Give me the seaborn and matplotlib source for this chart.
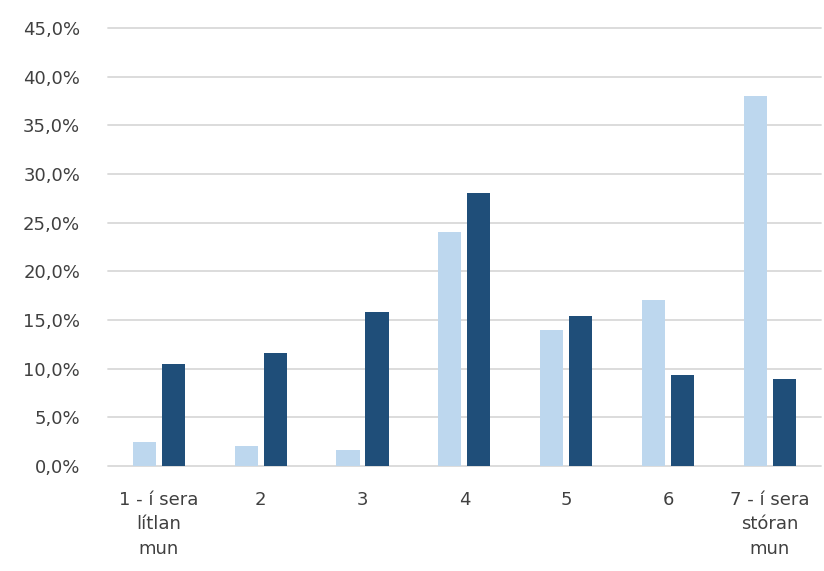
import pandas as pd
import matplotlib.pyplot as plt
import seaborn as sns
from matplotlib.ticker import FuncFormatter

sns.set_style("white")
plt.rcParams["font.family"] = ["DejaVu Sans"]

categories = ["1 - í sera\nlítlan\nmun", "2", "3", "4", "5", "6", "7 - í sera\nstóran\nmun"]
series_light = [2.5, 2.0, 1.6, 24.0, 14.0, 17.1, 38.0]
series_dark = [10.5, 11.6, 15.8, 28.0, 15.4, 9.35, 8.9]
series_names = ["Røð 1", "Røð 2"]
colors = ["#BDD7EE", "#1F4E79"]

df = pd.DataFrame({
    "category": categories * 2,
    "value": series_light + series_dark,
    "series": [series_names[0]] * len(categories) + [series_names[1]] * len(categories),
})

fig = plt.figure(figsize=(8.24, 5.71), dpi=100)
ax = fig.add_axes([0.131, 0.184, 0.865, 0.767])

sns.barplot(data=df, x="category", y="value", hue="series", order=categories,
            palette=colors, width=0.57, gap=0.2, saturation=1, linewidth=0,
            legend=False, ax=ax)

ax.set_ylim(0, 45)
ax.set_yticks(range(0, 46, 5))
ax.yaxis.set_major_formatter(FuncFormatter(lambda v, _: f"{v:.1f}%".replace(".", ",")))
ax.grid(axis="y", color="#d9d9d9", linewidth=1.3)
ax.set_axisbelow(True)
for gl in ax.get_ygridlines():
    gl.set_clip_on(False)
for s in ax.spines.values():
    s.set_visible(False)
ax.tick_params(axis="both", length=0, colors="#404040", labelsize=13)
ax.tick_params(axis="y", pad=20)
ax.tick_params(axis="x", pad=18)
for lbl in ax.get_xticklabels():
    lbl.set_linespacing(1.45)
ax.set_xlabel("")
ax.set_ylabel("")

fig.savefig("out.png", dpi=100)
